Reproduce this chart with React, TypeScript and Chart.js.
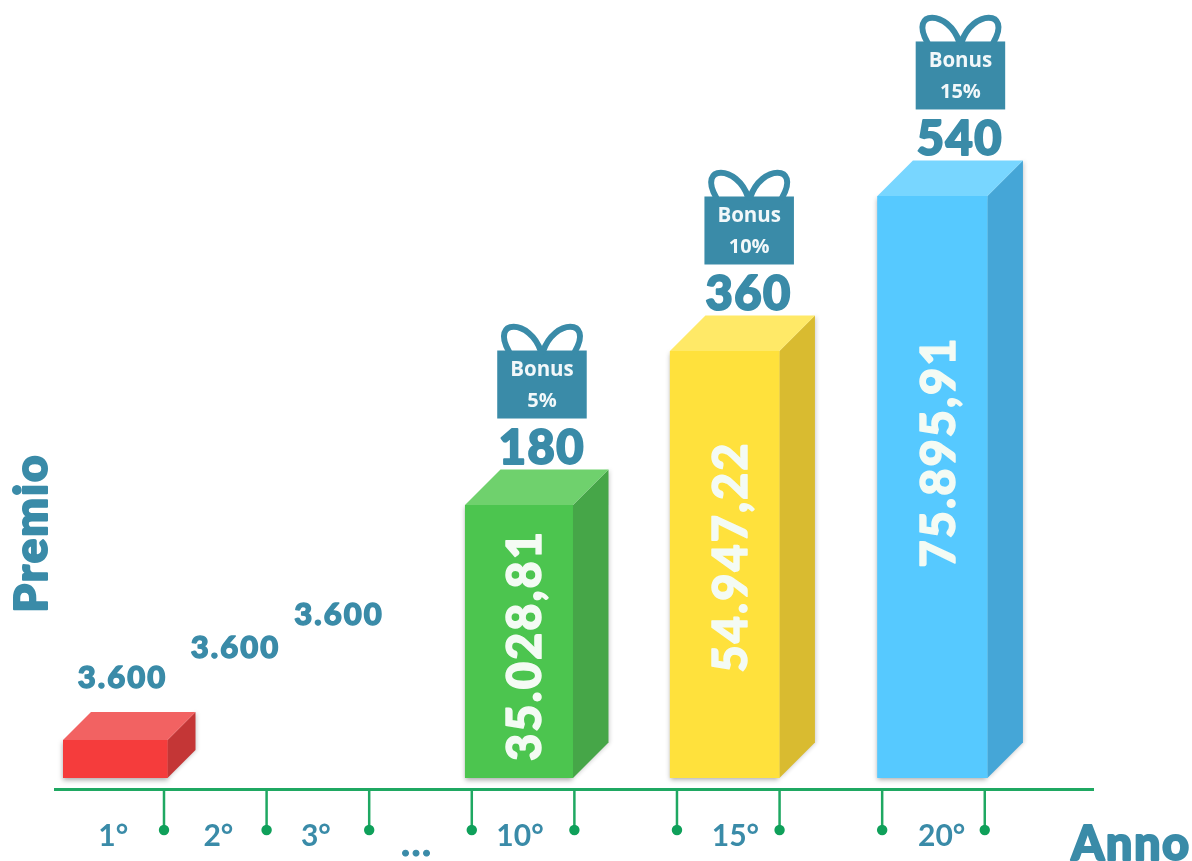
import React, { useEffect, useRef } from "react";
import { Chart, registerables } from "chart.js";

Chart.register(...registerables);

// One slot on the X axis = one step between two green ticks.
const axisLabels = ["1°", "2°", "3°", "10°", "15°", "20°"];
const axisLabelSlots = [0.505, 1.53, 2.48, 4.47, 6.57, 8.58];
const boundarySlots = [1, 2, 3, 4, 5, 6, 7, 8, 9];

const barNames = ["1°", "10°", "15°", "20°"];
const barSlots = [0.525, 4.46, 6.465, 8.49];
// Heights as pictured (the drawing is not strictly to scale with its printed figures).
const barHeights = [4960, 35660, 55780, 76030];
const barPrinted = ["", "35.028,81", "54.947,22", "75.895,91"];
const bonusPoints = ["", "180", "360", "540"];
const bonusPercent = ["", "5%", "10%", "15%"];
const yearlyPremiums = ["3.600", "3.600", "3.600"];

const frontColors = ["#F53C3C", "#4CC54F", "#FFE13C", "#56C9FF"];
const topColors = ["#F26262", "#6FD16D", "#FFE967", "#78D6FF"];
const sideColors = ["#C43636", "#46A648", "#D9BB30", "#45A6D7"];
const barWidths = [104.5, 108, 109.5, 110];
const barDepths = [28, 35.5, 35.5, 35.5];

// Layout nudges for the annotations, in pixels, relative to each bar.
const printedShiftY = [0, 4, -7.5, -35];
const printedShiftX = [0, 7, 7, 7];
const giftShiftX = [0, 23, 24.5, 28];
const pointsShiftX = [0, 23, 24, 27.5];

const TEAL = "#3A8BA8";
const AXIS_GREEN = "#1FA862";
const HEAD = "Lato, sans-serif";

const text = (
  ctx: CanvasRenderingContext2D,
  s: string,
  x: number,
  y: number,
  font: string,
  color: string,
  spacing = 0,
  rot = 0,
  stroke = 0
) => {
  ctx.save();
  ctx.translate(x, y);
  if (rot) ctx.rotate(rot);
  ctx.font = font;
  ctx.fillStyle = color;
  ctx.textAlign = "center";
  ctx.textBaseline = "middle";
  (ctx as any).letterSpacing = spacing + "px";
  if (stroke) {
    ctx.strokeStyle = color;
    ctx.lineWidth = stroke;
    ctx.lineJoin = "round";
    ctx.strokeText(s, 0, 0);
  }
  ctx.fillText(s, 0, 0);
  ctx.restore();
};

const gift = (ctx: CanvasRenderingContext2D, cx: number, boxBottom: number, pct: string) => {
  const w = 89.5;
  const h = 68;
  const top = boxBottom - h;
  ctx.save();
  ctx.fillStyle = TEAL;
  ctx.fillRect(cx - w / 2, top, w, h);
  ctx.strokeStyle = TEAL;
  ctx.lineWidth = 6;
  ctx.lineCap = "round";
  ctx.beginPath();
  ctx.moveTo(cx - 1, top + 1);
  ctx.bezierCurveTo(cx - 12, top - 32, cx - 52, top - 32, cx - 33, top + 1);
  ctx.moveTo(cx + 1, top + 1);
  ctx.bezierCurveTo(cx + 12, top - 32, cx + 52, top - 32, cx + 33, top + 1);
  ctx.stroke();
  ctx.restore();
  text(ctx, "Bonus", cx, top + 20, "700 20.5px 'Open Sans', sans-serif", "#F2F8FA");
  text(ctx, pct, cx, top + 50.5, "700 20px 'Open Sans', sans-serif", "#F2F8FA");
};

const box3d = {
  id: "box3d",
  beforeDatasetsDraw(chart: any) {
    const ctx: CanvasRenderingContext2D = chart.ctx;
    barNames.forEach((_, i) => {
      const el = chart.getDatasetMeta(i).data[0];
      const left = el.x - el.width / 2;
      const right = el.x + el.width / 2;
      const d = barDepths[i];
      ctx.save();
      ctx.shadowColor = "rgba(0,0,0,0.35)";
      ctx.shadowBlur = 5;
      ctx.shadowOffsetY = 2;
      ctx.fillStyle = frontColors[i];
      ctx.fillRect(left, el.y, el.width, el.base - el.y);
      ctx.shadowOffsetY = 0;
      ctx.shadowOffsetX = 1;
      ctx.shadowBlur = 4;
      ctx.shadowColor = "rgba(0,0,0,0.2)";
      ctx.fillStyle = sideColors[i];
      ctx.beginPath();
      ctx.moveTo(right, el.y);
      ctx.lineTo(right + d, el.y - d);
      ctx.lineTo(right + d, el.base - d);
      ctx.lineTo(right, el.base);
      ctx.closePath();
      ctx.fill();
      ctx.restore();
      ctx.fillStyle = topColors[i];
      ctx.beginPath();
      ctx.moveTo(left, el.y);
      ctx.lineTo(left + d, el.y - d);
      ctx.lineTo(right + d, el.y - d);
      ctx.lineTo(right, el.y);
      ctx.closePath();
      ctx.fill();
    });
  },
  afterDatasetsDraw(chart: any) {
    const ctx: CanvasRenderingContext2D = chart.ctx;
    const xs = chart.scales.x;
    const axisY = chart.chartArea.bottom;

    // ticks hanging under the axis
    ctx.save();
    ctx.strokeStyle = AXIS_GREEN;
    ctx.fillStyle = "#0FA05A";
    ctx.lineWidth = 2.5;
    boundarySlots.forEach((s) => {
      const px = xs.getPixelForValue(s);
      ctx.beginPath();
      ctx.moveTo(px, axisY);
      ctx.lineTo(px, axisY + 41);
      ctx.stroke();
      ctx.beginPath();
      ctx.arc(px, axisY + 41, 5.2, 0, Math.PI * 2);
      ctx.fill();
    });
    ctx.restore();

    // labels on the bars
    barNames.forEach((_, i) => {
      if (!barPrinted[i]) return;
      const el = chart.getDatasetMeta(i).data[0];
      const mid = (el.y + el.base) / 2;
      text(
        ctx,
        barPrinted[i],
        el.x + printedShiftX[i],
        mid + printedShiftY[i],
        `900 47px ${HEAD}`,
        "#F4FBF4",
        2,
        -Math.PI / 2,
        1.4
      );
      const top = el.y - barDepths[i];
      text(ctx, bonusPoints[i], el.x + pointsShiftX[i], top - 21, `900 47px ${HEAD}`, TEAL, 1.5, 0, 2);
      gift(ctx, el.x + giftShiftX[i], top - 51, bonusPercent[i]);
    });

    // yearly premiums
    const pos = [
      [122.5, 678],
      [235.5, 648],
      [339, 615],
    ];
    yearlyPremiums.forEach((p, i) => {
      text(ctx, p, pos[i][0], pos[i][1], `900 31px ${HEAD}`, TEAL, 2, 0, 1.4);
    });

    // the gap label and axis names
    text(ctx, "...", 417, 844, `900 36px ${HEAD}`, TEAL, 2, 0, 1);
    text(ctx, "Premio", 32, 533, `900 46px ${HEAD}`, TEAL, 2, -Math.PI / 2, 2);
    text(ctx, "Anno", 1131, 845, `900 47px ${HEAD}`, TEAL, 1.5, 0, 2);
  },
};

export default function App() {
  const ref = useRef<HTMLCanvasElement>(null);
  useEffect(() => {
    const chart = new Chart(ref.current as HTMLCanvasElement, {
      type: "bar",
      data: {
        datasets: barNames.map((name, i) => ({
          label: name,
          data: [{ x: barSlots[i], y: barHeights[i] }],
          backgroundColor: frontColors[i],
          borderWidth: 0,
          grouped: false,
          barPercentage: 3,
          categoryPercentage: 1,
          maxBarThickness: barWidths[i],
        })),
      } as any,
      options: {
        responsive: false,
        animation: false,
        devicePixelRatio: 1,
        layout: { padding: { left: 55, right: 99, top: 0, bottom: 0 } },
        plugins: { legend: { display: false }, tooltip: { enabled: false } },
        scales: {
          x: {
            type: "linear",
            offset: false,
            min: -0.0624,
            max: 10.055,
            grid: { display: false },
            border: { display: true, color: AXIS_GREEN, width: 3 },
            afterBuildTicks(scale: any) {
              scale.ticks = axisLabelSlots.map((value) => ({ value }));
            },
            afterFit(scale: any) {
              scale.height = 72;
            },
            ticks: {
              autoSkip: false,
              maxRotation: 0,
              padding: 21,
              color: TEAL,
              font: { family: "Lato", size: 30, weight: "bold" },
              callback: (_v: any, i: number) => axisLabels[i],
            },
          },
          y: { display: false, min: -1437, max: 101630 },
        },
      } as any,
      plugins: [box3d],
    });
    return () => chart.destroy();
  }, []);
  return (
    <div style={{ position: "absolute", left: 0, top: 0, width: 1192, height: 861, background: "#fff" }}>
      <canvas ref={ref} width={1192} height={861} style={{ display: "block" }} />
    </div>
  );
}
